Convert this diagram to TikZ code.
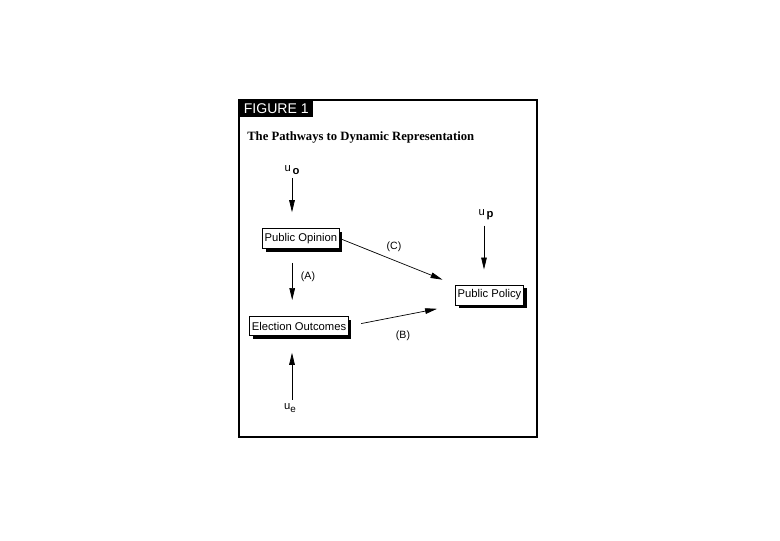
\documentclass[tikz,border=0pt]{standalone}
\usepackage{fontspec}
\setmainfont{Liberation Serif}
\setsansfont{Liberation Sans}
\usetikzlibrary{arrows.meta,shadows}
\begin{document}
\begin{tikzpicture}[x=.025cm,y=-.025cm,
                    box/.style={draw,fill=white,line width=.5pt,inner xsep=1.5pt,
                      minimum height=.48cm,font=\sffamily\fontsize{8}{9}\selectfont,
                      drop shadow={shadow xshift=2.2pt,shadow yshift=-2.4pt,fill=black,opacity=1}},
                    link/.style={line width=.5pt,-{Triangle[length=.3cm,width=.14cm]}},
                    lbl/.style={font=\sffamily\fontsize{7.5}{9}\selectfont},
                    err/.style={font=\sffamily\fontsize{8}{9}\selectfont,inner sep=1pt}]
 \useasboundingbox (0,0) rectangle (780,540);
 \draw[line width=.8pt] (239,100) rectangle (537,437);
 \draw[line width=1.6pt] (239,437) -- (537,437);
 \node[fill=black,text=white,anchor=north west,minimum width=1.85cm,minimum height=.425cm,
       inner sep=0pt,font=\sffamily\fontsize{10}{12}\selectfont] (fig) at (239,100) {FIGURE 1};
 \node[anchor=west,inner sep=0pt,font=\bfseries\fontsize{9}{11}\selectfont] (title) at (247,137)
   {The Pathways to Dynamic Representation};
 % boxes
 \node[box] (opinion) at (301,238.5) {Public Opinion};
 \node[box] (election) at (299,326) {Election Outcomes};
 \node[box] (policy) at (489.5,295) {Public Policy};
 % error terms
 \node[err] (uo) at (292,170) {u\,\raisebox{-.4ex}{\bfseries o}};
 \node[err] (ue) at (290,408) {u\raisebox{-.6ex}{\fontsize{7}{8}\selectfont e}};
 \node[err] (up) at (486,215) {u\,\raisebox{-.3ex}{\bfseries p}};
 % pathways
 \draw[link,shorten <=.05cm,shorten >=.4cm] (uo.south) -- (uo.south |- opinion.north);
 \draw[link,shorten <=.35cm,shorten >=.4cm] ([xshift=-.22cm]opinion.south) -- ([xshift=-.22cm]opinion.south |- election.north);
 \draw[link,shorten <=.05cm,shorten >=.42cm] ([xshift=.05cm]ue.north) -- ([xshift=.05cm]ue.north |- election.south);
 \draw[link,shorten <=.1cm,shorten >=.38cm] ([xshift=-.05cm]up.south) -- ([xshift=-.05cm]up.south |- policy.north);
 \draw[link,shorten >=.34cm] (opinion.east) -- (policy.north west);
 \draw[link,shorten <=.32cm,shorten >=.46cm] (election.east) -- (policy.south west);
 \node[lbl] (a) at (308,277) {(A)};
 \node[lbl] (c) at (394,247) {(C)};
 \node[lbl] (b) at (403,336) {(B)};
\end{tikzpicture}
\end{document}
